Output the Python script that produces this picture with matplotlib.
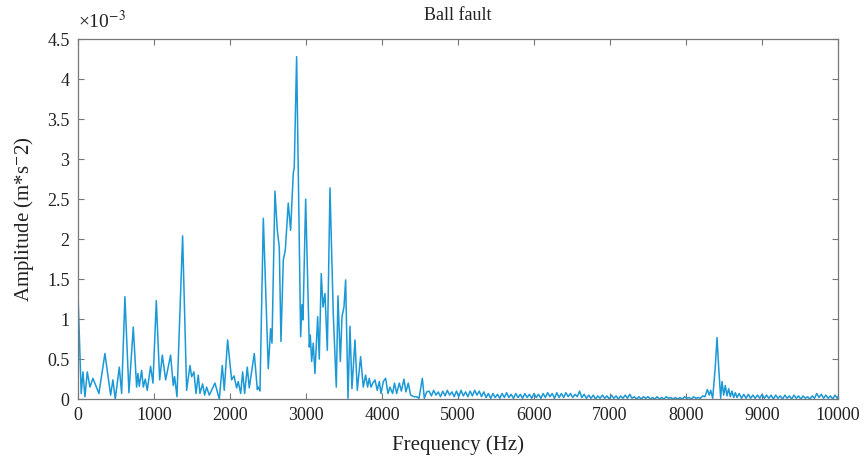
import matplotlib
matplotlib.use('Agg')
import matplotlib.pyplot as plt

plt.rcParams['font.family'] = ['Liberation Serif', 'DejaVu Serif']
plt.rcParams['mathtext.fontset'] = 'stix'

# Frequenz (Hz) und Amplitude (x 1e-3 m/s^2)
freq_low = [0, 43, 66, 92, 123, 158, 197, 276, 355, 430, 460, 491, 544, 575, 618,
            671, 728, 772, 789, 807, 838, 860, 886, 912, 956, 987, 1031, 1075,
            1110, 1154, 1219, 1254, 1272, 1303, 1377, 1430, 1474, 1496, 1526,
            1553, 1583, 1605, 1640, 1667, 1693, 1728, 1803, 1860, 1899, 1925,
            1969, 2022, 2053, 2088, 2109, 2141, 2167, 2193, 2228, 2254, 2320,
            2360, 2373, 2395, 2439, 2504, 2535, 2553, 2592, 2623, 2649, 2671,
            2702, 2728, 2767, 2798, 2833, 2846, 2877, 2930, 2947, 2961, 2996,
            3044, 3057, 3075, 3096, 3118, 3154, 3175, 3201, 3224, 3250, 3281,
            3316, 3359, 3399, 3421, 3452, 3474, 3500, 3522, 3553, 3579, 3605,
            3645, 3675, 3719, 3754, 3785, 3811, 3833, 3855, 3880, 3908, 3938,
            3965, 3987, 4018, 4048, 4079, 4105, 4140, 4165, 4193, 4228, 4255,
            4289, 4315, 4346, 4377, 4420, 4456, 4487, 4531, 4557, 4588]
amp_low = [1.33, 0.07, 0.34, 0.03, 0.34, 0.15, 0.26, 0.07, 0.57, 0.05, 0.24, 0.0,
           0.40, 0.07, 1.28, 0.08, 0.90, 0.15, 0.32, 0.16, 0.36, 0.15, 0.25, 0.11,
           0.41, 0.20, 1.23, 0.24, 0.55, 0.24, 0.55, 0.17, 0.28, 0.03, 2.04, 0.11,
           0.42, 0.28, 0.34, 0.07, 0.30, 0.07, 0.19, 0.05, 0.15, 0.05, 0.20, 0.0,
           0.42, 0.11, 0.74, 0.24, 0.29, 0.14, 0.22, 0.07, 0.34, 0.07, 0.40, 0.14,
           0.57, 0.12, 0.15, 0.10, 2.26, 0.38, 0.88, 0.70, 2.60, 2.11, 1.90, 0.72,
           1.74, 1.86, 2.45, 2.11, 2.82, 2.90, 4.28, 0.78, 1.18, 0.99, 2.50, 0.65,
           0.80, 0.47, 0.70, 0.32, 1.03, 0.50, 1.57, 1.15, 1.32, 0.61, 2.64, 1.07,
           0.15, 1.29, 0.47, 1.03, 1.15, 1.49, 0.01, 0.91, 0.13, 0.74, 0.11, 0.53,
           0.15, 0.30, 0.15, 0.26, 0.15, 0.20, 0.24, 0.11, 0.22, 0.07, 0.22, 0.26,
           0.07, 0.15, 0.07, 0.20, 0.07, 0.20, 0.10, 0.25, 0.09, 0.20, 0.05, 0.03,
           0.03, 0.01, 0.26, 0.01, 0.09]

freq_mid = [4620, 4650, 4680, 4710, 4740, 4770, 4800, 4830, 4860, 4890, 4920, 4950,
            4980, 5010, 5040, 5070, 5100, 5130, 5160, 5190, 5220, 5250, 5280, 5310,
            5340, 5370, 5400, 5430, 5460, 5490, 5520, 5550, 5580, 5610, 5640, 5670,
            5700, 5730, 5760, 5790, 5820, 5850, 5880, 5910, 5940, 5970, 6000, 6030,
            6060, 6090, 6120, 6150, 6180, 6210, 6240, 6270, 6300, 6330, 6360, 6390,
            6420, 6450, 6480, 6510, 6540, 6570, 6600, 6630, 6660, 6690, 6720, 6750,
            6780, 6810, 6840, 6870, 6900, 6930, 6960, 6990, 7020, 7050, 7080, 7110,
            7140, 7170, 7200, 7230, 7260, 7290, 7320, 7350, 7380, 7410, 7440, 7470,
            7500, 7530, 7560, 7590, 7620, 7650, 7680, 7710, 7740, 7770, 7800, 7830,
            7860, 7890, 7920, 7950, 7980, 8010, 8040, 8070, 8100, 8130, 8160, 8190,
            8220, 8250]
amp_mid = [0.10, 0.04, 0.11, 0.05, 0.09, 0.03, 0.10, 0.04, 0.11, 0.05, 0.09, 0.03,
           0.10, 0.03, 0.11, 0.04, 0.09, 0.03, 0.10, 0.04, 0.11, 0.05, 0.10, 0.03,
           0.09, 0.02, 0.07, 0.01, 0.07, 0.02, 0.06, 0.01, 0.07, 0.02, 0.08, 0.02,
           0.06, 0.01, 0.07, 0.02, 0.06, 0.01, 0.07, 0.02, 0.06, 0.01, 0.07, 0.02,
           0.06, 0.01, 0.07, 0.02, 0.08, 0.03, 0.07, 0.01, 0.08, 0.02, 0.07, 0.02,
           0.08, 0.03, 0.07, 0.02, 0.06, 0.03, 0.10, 0.02, 0.06, 0.01, 0.05, 0.01,
           0.05, 0.0, 0.04, 0.01, 0.05, 0.01, 0.04, 0.0, 0.05, 0.01, 0.04, 0.0,
           0.04, 0.01, 0.05, 0.01, 0.06, 0.01, 0.03, 0.0, 0.03, 0.0, 0.03, 0.01,
           0.03, 0.0, 0.02, 0.0, 0.03, 0.0, 0.02, 0.0, 0.03, 0.01, 0.02, 0.0,
           0.02, 0.0, 0.02, 0.0, 0.03, 0.01, 0.02, 0.0, 0.03, 0.01, 0.02, 0.01,
           0.04, 0.03]

freq_high = [8281, 8307, 8325, 8351, 8385, 8408, 8431, 8456, 8474, 8496, 8517, 8539,
             8561, 8583, 8605, 8627, 8649, 8671, 8700, 8730, 8760, 8790, 8820, 8850,
             8880, 8910, 8940, 8970, 9000, 9030, 9060, 9090, 9120, 9150, 9180, 9210,
             9240, 9270, 9300, 9330, 9360, 9390, 9420, 9450, 9480, 9510, 9540, 9570,
             9600, 9630, 9660, 9690, 9720, 9750, 9780, 9810, 9840, 9870, 9900, 9930,
             9960, 9990, 10000]
amp_high = [0.12, 0.05, 0.11, 0.01, 0.40, 0.77, 0.38, 0.01, 0.22, 0.05, 0.17, 0.04,
            0.13, 0.03, 0.10, 0.02, 0.08, 0.02, 0.07, 0.01, 0.06, 0.01, 0.06, 0.01,
            0.05, 0.01, 0.05, 0.01, 0.06, 0.01, 0.05, 0.01, 0.05, 0.0, 0.05, 0.01,
            0.04, 0.0, 0.05, 0.01, 0.04, 0.0, 0.05, 0.01, 0.04, 0.0, 0.04, 0.01,
            0.03, 0.0, 0.04, 0.01, 0.07, 0.02, 0.06, 0.01, 0.05, 0.01, 0.04, 0.0,
            0.05, 0.01, 0.03]

freq = freq_low + freq_mid + freq_high
amp = amp_low + amp_mid + amp_high

x_ticks = [0, 1000, 2000, 3000, 4000, 5000, 6000, 7000, 8000, 9000, 10000]
y_ticks = [0, 0.5, 1, 1.5, 2, 2.5, 3, 3.5, 4, 4.5]
y_labels = ['0', '0.5', '1', '1.5', '2', '2.5', '3', '3.5', '4', '4.5']

fig = plt.figure(figsize=(8.66, 4.63), dpi=100)
ax = fig.add_axes([0.090, 0.138, 0.8777, 0.7776])
ax.plot(freq, amp, color='#1b98d6', linewidth=1.1)

ax.set_xlim(0, 10000)
ax.set_ylim(0, 4.5)
ax.set_xticks(x_ticks)
ax.set_yticks(y_ticks)
ax.set_yticklabels(y_labels)

for s in ax.spines.values():
    s.set_color('#777777')
    s.set_linewidth(0.9)
ax.tick_params(direction='in', top=True, right=True, length=4.5, width=0.8,
               color='#777777', labelsize=13, labelcolor='#222222', pad=6)

ax.set_title('Ball fault', fontsize=13, color='#222222', pad=14)
ax.set_xlabel('Frequency (Hz)', fontsize=15, color='#222222', labelpad=8)
ax.set_ylabel('Amplitude (m*s$^{-}$2)', fontsize=15, color='#222222', labelpad=8)
fig.text(0.090, 0.940, '\u00d710$^{-3}$', fontsize=14, color='#222222',
         ha='left', va='baseline')

fig.savefig('out.png', dpi=100)
